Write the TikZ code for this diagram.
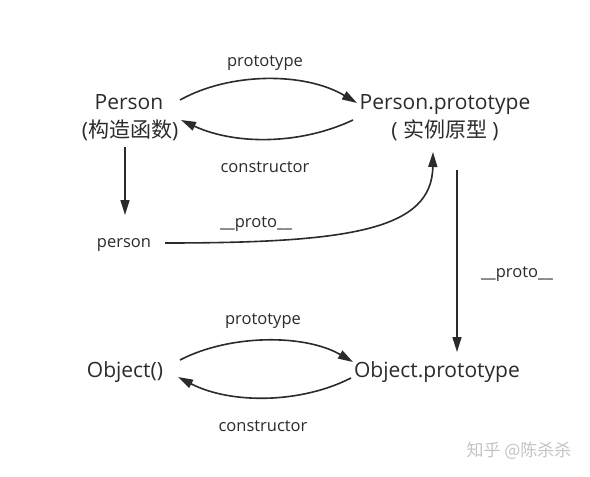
\documentclass[tikz,border=0pt]{standalone}
\usepackage{fontspec}
\setmainfont{Open Sans}
\newfontfamily\cjk{Noto Sans CJK SC}
\usetikzlibrary{arrows.meta}
\definecolor{ink}{HTML}{2B2B2B}
\definecolor{wm}{HTML}{C4C4C4}
\begin{document}
\begin{tikzpicture}[x=1pt,y=-1pt,
 big/.style={font=\fontsize{21}{27}\selectfont, text=ink, inner sep=0pt, anchor=base},
 lbl/.style={font=\fontsize{16.5}{20}\selectfont, text=ink, inner sep=0pt, anchor=base},
 arr/.style={draw=ink, line width=1.6pt, -{Triangle[length=15pt,width=9pt]}}]
\useasboundingbox[fill=white] (0,0) rectangle (590,477);
% main nodes
\node[big] (P) at (129,109) {Person};
\node[big] (Pc) at (130,137) {(\cjk 构造函数\rmfamily)};
\node[big] (PP) at (445,109) {Person.prototype};
\node[big] (PPc) at (445,137) {( {\cjk 实例原型} )};
\node[lbl] (person) at (124,247) {person};
\node[big] (O) at (125,377) {Object()};
\node[big] (OP) at (437,377) {Object.prototype};
% labels
\node[lbl] (l1) at (265,66) {prototype};
\node[lbl] (l2) at (265,172) {constructor};
\node[lbl] (l3) at (256,227) {\_\_proto\_\_};
\node[lbl] (l4) at (517,277) {\_\_proto\_\_};
\node[lbl] (l5) at (263,324) {prototype};
\node[lbl] (l6) at (263,431) {constructor};
\node[anchor=base, inner sep=0pt, text=wm, font=\fontsize{17}{20}\selectfont\cjk] (wmk) at (519,456) {知乎 @陈杀杀};
% connectors
\draw[arr] ([shift={(51,-9)}]P.base) .. controls (230,72) and (305,72) .. ([shift={(-88,-6)}]PP.base);
\draw[arr] ([shift={(-92,11)}]PP.base) .. controls (300,145) and (235,145) .. ([shift={(52,11)}]P.base);
\draw[arr] ([shift={(-5,10)}]Pc.base) -- ([shift={(1,-32)}]person.base);
\draw[arr] ([shift={(41,-4)}]person.base) .. controls (350,243) and (432,230) .. ([shift={(-12,15)}]PPc.base);
\draw[arr] ([shift={(12,33)}]PPc.base) -- ([shift={(20,-25)}]OP.base);
\draw[arr] ([shift={(55,-17)}]O.base) .. controls (230,334) and (305,334) .. ([shift={(-84,-15)}]OP.base);
\draw[arr] ([shift={(-86,1)}]OP.base) .. controls (300,404) and (230,404) .. ([shift={(53,0)}]O.base);
\end{tikzpicture}
\end{document}
